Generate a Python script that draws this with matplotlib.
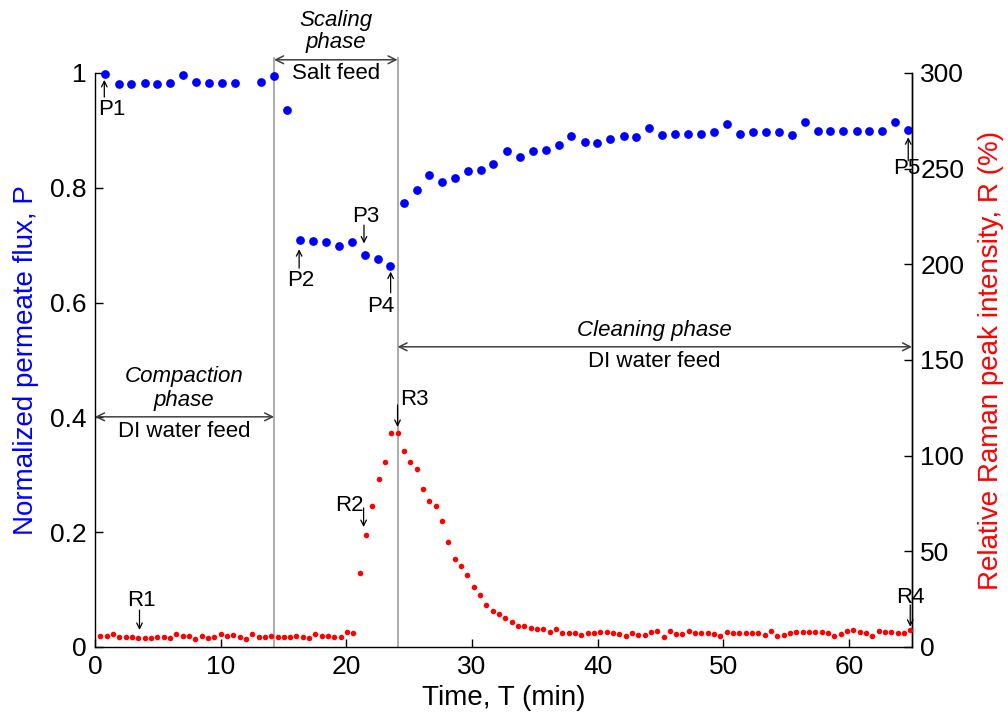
import matplotlib
matplotlib.use("Agg")
import matplotlib.pyplot as plt

plt.rcParams['font.family'] = ['Liberation Sans', 'DejaVu Sans']

# ---- data -------------------------------------------------------------
flux_time = [0.82, 1.87, 2.9, 3.94, 4.97, 5.98, 7.03, 8.06, 9.1, 10.13, 11.16, 13.2,
             14.23, 15.29, 16.3, 17.35, 18.38, 19.4, 20.45, 21.45, 22.48, 23.5, 24.55,
             25.6, 26.6, 27.6, 28.65, 29.68, 30.7, 31.7, 32.75, 33.8, 34.84, 35.87,
             36.9, 37.9, 38.96, 39.96, 41.0, 42.06, 43.06, 44.1, 45.1, 46.15, 47.18,
             48.2, 49.25, 50.28, 51.3, 52.34, 53.37, 54.4, 55.45, 56.46, 57.49, 58.5,
             59.5, 60.6, 61.6, 62.6, 63.65, 64.66]
flux_P = [0.998, 0.980, 0.980, 0.982, 0.981, 0.982, 0.996, 0.984, 0.983, 0.983, 0.982,
          0.985, 0.994, 0.935, 0.709, 0.708, 0.706, 0.699, 0.705, 0.683, 0.676, 0.663,
          0.773, 0.797, 0.822, 0.810, 0.817, 0.829, 0.831, 0.842, 0.864, 0.853, 0.864,
          0.866, 0.874, 0.891, 0.879, 0.878, 0.885, 0.890, 0.888, 0.904, 0.892, 0.893,
          0.893, 0.893, 0.897, 0.911, 0.893, 0.898, 0.897, 0.897, 0.892, 0.914, 0.899,
          0.899, 0.899, 0.899, 0.899, 0.899, 0.914, 0.901]

raman_time = [0.42, 0.92, 1.43, 1.93, 2.43, 2.94, 3.44, 3.94, 4.45, 4.95, 5.46, 5.96,
              6.46, 6.97, 7.47, 7.97, 8.48, 8.98, 9.48, 9.99, 10.49, 10.99, 11.50, 12.00,
              12.50, 13.01, 13.51, 14.01, 14.52, 15.02, 15.53, 16.03, 16.53, 17.04, 17.54,
              18.04, 18.55, 19.05, 19.55, 20.06, 20.56, 21.06, 21.57, 22.07, 22.57, 23.08,
              23.58, 24.08, 24.59, 25.09, 25.60, 26.10, 26.60, 27.11, 27.61, 28.11, 28.62,
              29.12, 29.62, 30.13, 30.63, 31.13, 31.64, 32.14, 32.64, 33.15, 33.65, 34.15,
              34.66, 35.16, 35.67, 36.17, 36.67, 37.18, 37.68, 38.18, 38.69, 39.19, 39.69,
              40.20, 40.70, 41.20, 41.71, 42.21, 42.71, 43.22, 43.72, 44.22, 44.73, 45.23,
              45.74, 46.24, 46.74, 47.25, 47.75, 48.25, 48.76, 49.26, 49.76, 50.27, 50.77,
              51.27, 51.78, 52.28, 52.78, 53.29, 53.79, 54.29, 54.80, 55.30, 55.81, 56.31,
              56.81, 57.32, 57.82, 58.32, 58.83, 59.33, 59.83, 60.34, 60.84, 61.34, 61.85,
              62.35, 62.85, 63.36, 63.86, 64.36, 64.87]
raman_R = [5.75, 5.75, 6.8, 5.05, 5.05, 5.05, 4.53, 4.53, 4.53, 5.4, 5.4, 4.53, 6.8,
           5.92, 5.92, 4.36, 5.92, 4.53, 5.4, 6.62, 5.75, 6.27, 5.4, 4.0, 6.62, 5.4, 5.05,
           5.75, 5.05, 5.05, 5.05, 5.75, 5.4, 4.53, 6.62, 5.92, 5.92, 5.05, 5.05, 7.67,
           7.49, 38.8,
           58.5, 73.9, 88.0, 96.9, 111.7, 112.0, 102.5, 96.5, 93.0, 82.8, 76.2, 73.7,
           65.9, 54.9, 45.8, 42.5, 37.8, 31.4, 27.3,
           21.8, 19.0, 17.2, 15.3, 13.1, 11.0, 11.0, 9.8, 9.4, 9.2, 8.0, 9.4, 7.1, 7.1,
           7.1, 6.4, 7.1, 7.1, 8.0, 7.8, 7.1, 6.6, 5.7, 7.1, 6.3, 6.4, 8.0, 8.5, 5.4, 8.4,
           6.6, 6.6, 8.5, 7.1, 7.5, 7.1, 6.6, 5.9, 7.8, 7.5, 7.1, 7.1, 7.5, 7.5, 6.3, 8.4,
           5.9, 6.3, 7.1, 7.8, 7.8, 7.8, 7.8, 7.8, 7.1, 5.9, 6.6, 8.4, 8.9, 7.8, 7.1, 5.7,
           8.5, 7.8, 7.8, 7.5, 7.1, 8.9]

phase_bounds = [14.25, 24.07]
x_ticks = [0, 10, 20, 30, 40, 50, 60]
p_ticks = [0, 0.2, 0.4, 0.6, 0.8, 1]
p_tick_labels = ['0', '0.2', '0.4', '0.6', '0.8', '1']
r_ticks = [0, 50, 100, 150, 200, 250, 300]

# point labels: (text, text_x, text_y, arrow_x, arrow_from, arrow_to)
p_labels = [('P1', 1.35, 0.936, 0.74, 0.958, 0.988),
            ('P2', 16.33, 0.639, 16.24, 0.660, 0.693),
            ('P3', 21.53, 0.750, 21.40, 0.735, 0.703),
            ('P4', 22.72, 0.594, 23.52, 0.617, 0.654),
            ('P5', 64.55, 0.834, 64.70, 0.847, 0.888)]
r_labels = [('R1', 3.67, 24.3, 3.54, 19.3, 8.9),
            ('R2', 20.26, 74.2, 21.37, 72.7, 62.7),
            ('R3', 25.42, 129.1, 24.07, 126.5, 115.0),
            ('R4', 64.90, 26.1, 64.86, 22.0, 10.6)]

# ---- figure -----------------------------------------------------------
fig = plt.figure(figsize=(10.08, 7.26), dpi=100)
ax = fig.add_axes([95 / 1008, 1 - 647 / 726, 817 / 1008, 574 / 726])
ax2 = ax.twinx()

TICK_FS = 19
LABEL_FS = 20
ANN_FS = 16

ax.plot(flux_time, flux_P, 'o', color='#0000ff', markersize=6.3, markeredgewidth=0,
        clip_on=False, zorder=5)
ax2.plot(raman_time, raman_R, 'o', color='#ff0000', markersize=4.0, markeredgewidth=0,
         clip_on=False, zorder=5)

ax.set_xlim(0, 65)
ax.set_ylim(0, 1)
ax2.set_ylim(0, 300)
ax.set_xticks(x_ticks)
ax.set_yticks(p_ticks)
ax.set_yticklabels(p_tick_labels)
ax2.set_yticks(r_ticks)

for a in (ax, ax2):
    a.spines['top'].set_visible(False)
    for s in a.spines.values():
        s.set_linewidth(1.0)
        s.set_color('black')
ax2.spines['left'].set_visible(False)
ax2.spines['bottom'].set_visible(False)

ax.tick_params(axis='both', direction='in', length=6, width=1, labelsize=TICK_FS,
               top=False, right=False, pad=6)
ax2.tick_params(axis='y', direction='in', length=6, width=1, labelsize=TICK_FS, pad=6)

ax.set_xlabel('Time, T (min)', fontsize=LABEL_FS, labelpad=4)
ax.set_ylabel('Normalized permeate flux, P', fontsize=LABEL_FS, color='#0000ff', labelpad=8)
ax2.set_ylabel('Relative Raman peak intensity, R (%)', fontsize=LABEL_FS, color='#ff0000',
               labelpad=10)

# phase boundaries
for xb in phase_bounds:
    ax.plot([xb, xb], [0, 1.027], color='#a6a6a6', lw=1.3, clip_on=False, zorder=2)

arrow_kw = dict(arrowstyle='<->', color='#404040', lw=1.1, shrinkA=0, shrinkB=0,
                mutation_scale=14)
ax.annotate('', xy=(0, 0.401), xytext=(phase_bounds[0], 0.401),
            arrowprops=arrow_kw, annotation_clip=False)
ax.annotate('', xy=(phase_bounds[0], 1.023), xytext=(phase_bounds[1], 1.023),
            arrowprops=arrow_kw, annotation_clip=False)
ax.annotate('', xy=(phase_bounds[1], 0.523), xytext=(65, 0.523),
            arrowprops=arrow_kw, annotation_clip=False)

ax.text(7.1, 0.450, 'Compaction\nphase', ha='center', va='center', fontsize=ANN_FS,
        style='italic', linespacing=1.15)
ax.text(7.1, 0.375, 'DI water feed', ha='center', va='center', fontsize=ANN_FS)
ax.text(19.16, 1.072, 'Scaling\nphase', ha='center', va='center', fontsize=ANN_FS,
        style='italic', linespacing=1.1, clip_on=False)
ax.text(19.16, 0.999, 'Salt feed', ha='center', va='center', fontsize=ANN_FS)
ax.text(44.5, 0.551, 'Cleaning phase', ha='center', va='center', fontsize=ANN_FS,
        style='italic')
ax.text(44.5, 0.497, 'DI water feed', ha='center', va='center', fontsize=ANN_FS)

small_arrow = dict(arrowstyle='->', color='black', lw=0.9, shrinkA=0, shrinkB=0,
                   mutation_scale=10)
for txt, tx, ty, axx, y0, y1 in p_labels:
    ax.text(tx, ty, txt, ha='center', va='center', fontsize=ANN_FS, zorder=6)
    ax.annotate('', xy=(axx, y1), xytext=(axx, y0), arrowprops=small_arrow,
                annotation_clip=False)
for txt, tx, ty, axx, y0, y1 in r_labels:
    ax2.text(tx, ty, txt, ha='center', va='center', fontsize=ANN_FS, zorder=6)
    ax2.annotate('', xy=(axx, y1), xytext=(axx, y0), arrowprops=small_arrow,
                 annotation_clip=False)

fig.savefig('out.png', dpi=100)
